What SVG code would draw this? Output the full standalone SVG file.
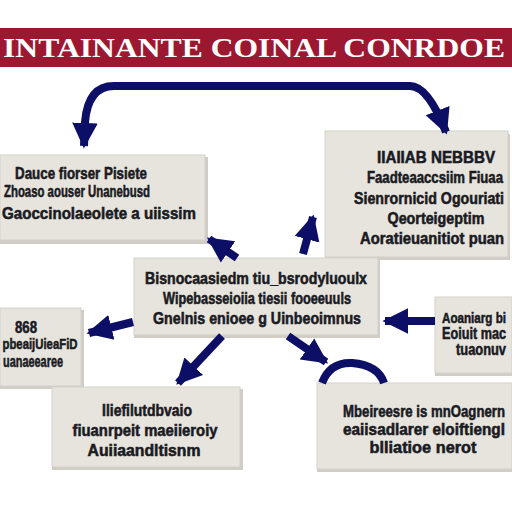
<svg xmlns="http://www.w3.org/2000/svg" width="512" height="512" viewBox="0 0 512 512">
<defs>
<style>
.box{fill:#e6e4dd;stroke:#d3d1c9;stroke-width:1}
.sh{fill:#cfcdc5}
.t{font-family:"Liberation Sans",Arial,sans-serif;font-weight:bold;font-size:13px;fill:#1a1a22;text-anchor:middle;stroke:#1a1a22;stroke-width:0.45}
.ttl{font-family:"Liberation Serif","Times New Roman",serif;font-weight:bold;font-size:27px;fill:#ffffff}
.ar{fill:none;stroke:#0d0f66;stroke-width:8;stroke-linecap:butt}
</style>
<marker id="ah" viewBox="0 0 10 10" refX="9" refY="5" markerWidth="3.2" markerHeight="3.6" orient="auto-start-reverse" markerUnits="strokeWidth">
<path d="M0,0 L10,5 L0,10 Z" fill="#0d0f66"/>
</marker>
</defs>
<rect width="512" height="512" fill="#ffffff"/>
<g id="title">
<rect x="0" y="28" width="512" height="39" fill="#9c1830"/>
<text class="ttl" x="3" y="57" textLength="502" lengthAdjust="spacingAndGlyphs">INTAINANTE COINAL CONRDOE</text>
</g>
<g id="box1">
<rect class="sh" x="0" y="157" width="208" height="87"/>
<rect class="box" x="0" y="155" width="205" height="85"/>
<text class="t" transform="translate(81,179) scale(1,1.22)" textLength="132" lengthAdjust="spacingAndGlyphs">Dauce fiorser Pisiete</text>
<text class="t" transform="translate(77,197) scale(1,1.22)" textLength="146" lengthAdjust="spacingAndGlyphs">Zhoaso aouser Unanebusd</text>
<text class="t" transform="translate(99,219) scale(1,1.22)" textLength="194" lengthAdjust="spacingAndGlyphs">Gaoccinolaeolete a uiissim</text>
</g>
<g id="box2">
<rect class="sh" x="325" y="134" width="185" height="126"/>
<rect class="box" x="325" y="131" width="183" height="126"/>
<text class="t" transform="translate(436,163) scale(1,1.22)" textLength="118" lengthAdjust="spacingAndGlyphs">IIAIIAB NEBBBV</text>
<text class="t" transform="translate(435,183) scale(1,1.22)" textLength="136" lengthAdjust="spacingAndGlyphs">Faadteaaccsiim Fiuaa</text>
<text class="t" transform="translate(429,204) scale(1,1.22)" textLength="150" lengthAdjust="spacingAndGlyphs">Sienrornicid Ogouriati</text>
<text class="t" transform="translate(436,224) scale(1,1.22)" textLength="97" lengthAdjust="spacingAndGlyphs">Qeorteigeptim</text>
<text class="t" transform="translate(432,244) scale(1,1.22)" textLength="144" lengthAdjust="spacingAndGlyphs">Aoratieuanitiot puan</text>
</g>
<g id="box3">
<rect class="sh" x="134" y="260" width="246" height="78"/>
<rect class="box" x="134" y="258" width="244" height="77"/>
<text class="t" transform="translate(256,284) scale(1,1.22)" textLength="222" lengthAdjust="spacingAndGlyphs">Bisnocaasiedm tiu_bsrodyluoulx</text>
<text class="t" transform="translate(257,304) scale(1,1.22)" textLength="188" lengthAdjust="spacingAndGlyphs">Wipebasseioiia tiesii fooeeuuls</text>
<text class="t" transform="translate(257,324) scale(1,1.22)" textLength="208" lengthAdjust="spacingAndGlyphs">Gnelnis enioee g Uinbeoimnus</text>
</g>
<g id="box4">
<rect class="sh" x="0" y="310" width="84" height="79"/>
<rect class="box" x="0" y="308" width="81" height="78"/>
<text class="t" transform="translate(26,333) scale(1,1.22)" textLength="22" lengthAdjust="spacingAndGlyphs">868</text>
<text class="t" transform="translate(40,349) scale(1,1.22)" style="font-size:12px" textLength="75" lengthAdjust="spacingAndGlyphs">pbeaijUieaFiD</text>
<text class="t" transform="translate(33,367) scale(1,1.22)" textLength="60" lengthAdjust="spacingAndGlyphs">uanaeearee</text>
</g>
<g id="box5">
<rect class="sh" x="435" y="299" width="77" height="77"/>
<rect class="box" x="435" y="297" width="77" height="76"/>
<text class="t" transform="translate(474,323) scale(1,1.22)" style="font-size:12px" textLength="64" lengthAdjust="spacingAndGlyphs">Aoaniarg bi</text>
<text class="t" transform="translate(474,339) scale(1,1.22)" textLength="64" lengthAdjust="spacingAndGlyphs">Eoiuit mac</text>
<text class="t" transform="translate(481,355) scale(1,1.22)" textLength="50" lengthAdjust="spacingAndGlyphs">tuaonuv</text>
</g>
<g id="box6">
<rect class="sh" x="52" y="389" width="191" height="81"/>
<rect class="box" x="52" y="387" width="188" height="80"/>
<text class="t" transform="translate(147,416) scale(1,1.22)" textLength="90" lengthAdjust="spacingAndGlyphs">Iliefilutdbvaio</text>
<text class="t" transform="translate(145,436) scale(1,1.22)" textLength="145" lengthAdjust="spacingAndGlyphs">fiuanrpeit maeiieroiy</text>
<text class="t" transform="translate(144,456) scale(1,1.22)" textLength="113" lengthAdjust="spacingAndGlyphs">Auiiaandltisnm</text>
</g>
<g id="box7">
<rect class="sh" x="317" y="385" width="195" height="87"/>
<rect class="box" x="317" y="383" width="195" height="86"/>
<text class="t" transform="translate(424,417) scale(1,1.22)" textLength="162" lengthAdjust="spacingAndGlyphs">Mbeireesre is mnOagnern</text>
<text class="t" transform="translate(424,435) scale(1,1.22)" textLength="162" lengthAdjust="spacingAndGlyphs">eaiisadlarer eloiftiengl</text>
<text class="t" transform="translate(423,453) scale(1,1.22)" textLength="107" lengthAdjust="spacingAndGlyphs">blliatioe nerot</text>
</g>
<g id="connectors">
<path class="ar" d="M84,146 L85,122 Q88,86 114,86 L410,86 Q428,86 446,132" marker-start="url(#ah)" marker-end="url(#ah)"/>
<path class="ar" d="M237,258 L209,239" marker-end="url(#ah)"/>
<path class="ar" d="M303,254 L313,217" marker-end="url(#ah)"/>
<path class="ar" d="M133,322 L89,333" marker-end="url(#ah)"/>
<path class="ar" d="M435,321 L385,321" marker-end="url(#ah)"/>
<path class="ar" d="M222,336 L178,383" marker-end="url(#ah)"/>
<path class="ar" d="M288,336 L326,362" marker-end="url(#ah)"/>
<path class="ar" d="M322,383 Q330,362 352,363 Q378,365 384,383"/>
</g>
</svg>
